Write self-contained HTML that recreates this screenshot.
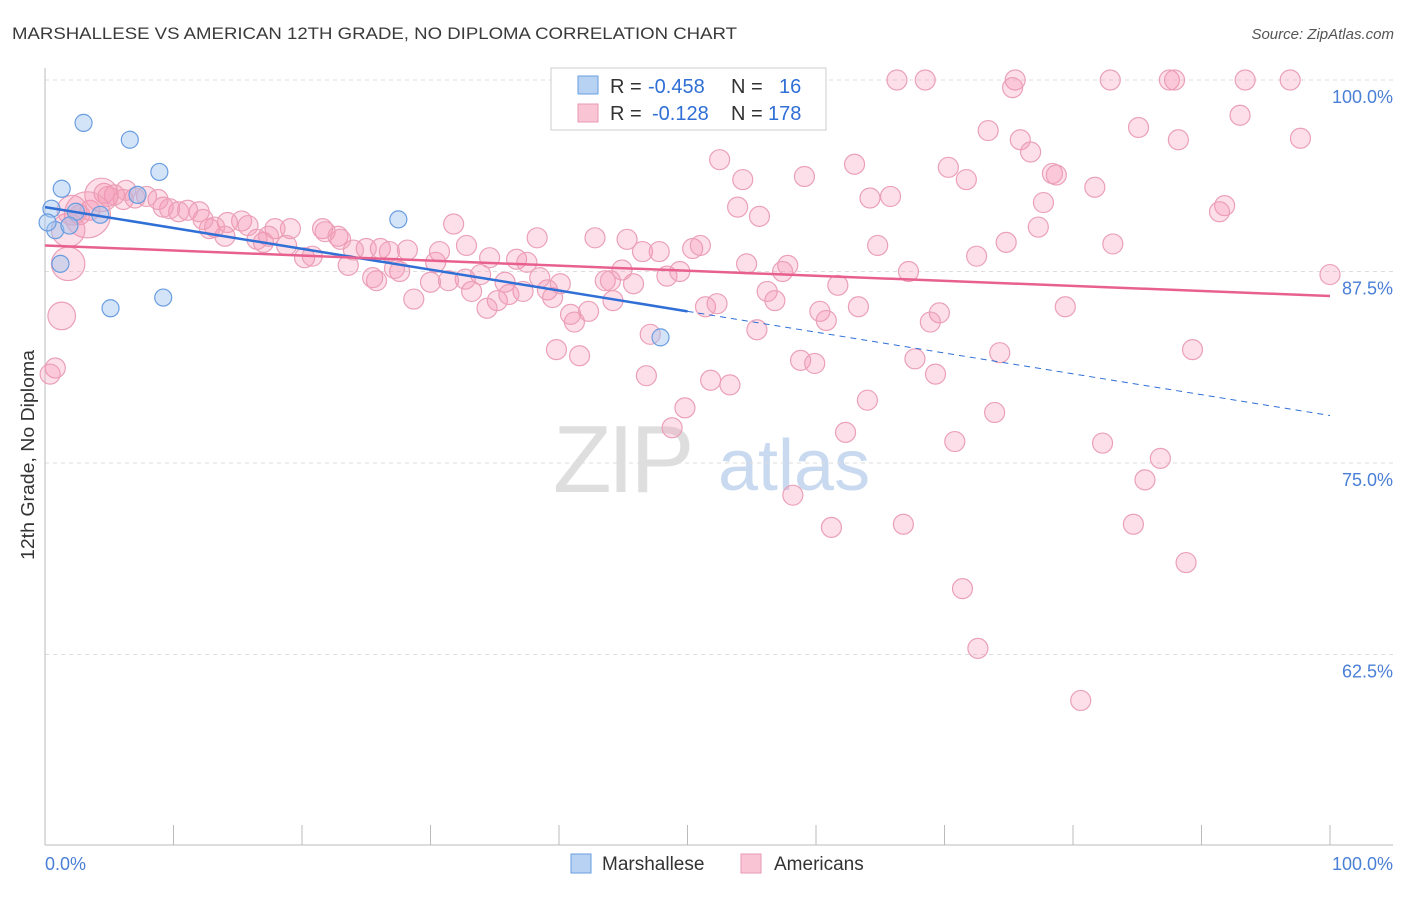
<!DOCTYPE html>
<html><head><meta charset="utf-8"><style>
body{margin:0;background:#fff;font-family:"Liberation Sans",sans-serif;}
svg text{font-family:"Liberation Sans",sans-serif;}
</style></head><body>
<svg id="chart" width="1406" height="892" viewBox="0 0 1406 892" xmlns="http://www.w3.org/2000/svg">
<text x="12" y="39" font-size="17" fill="#3a3a3a" textLength="725" lengthAdjust="spacingAndGlyphs">MARSHALLESE VS AMERICAN 12TH GRADE, NO DIPLOMA CORRELATION CHART</text>
<text x="1394" y="39" font-size="15" fill="#555" font-style="italic" text-anchor="end">Source: ZipAtlas.com</text>
<g>
<text x="553" y="492" font-size="96" fill="#dedede" font-family="Liberation Serif" letter-spacing="-4">ZIP</text>
<text x="718" y="490" font-size="72" fill="#c9daf0">atlas</text>
</g>
<g id="grid"></g>
<line x1="45" y1="68" x2="45" y2="845" stroke="#bbb"/>
<line x1="45" y1="845" x2="1393" y2="845" stroke="#bbb"/>
<g id="xticks"></g>
<g id="ylabels"></g>
<text transform="translate(34,455) rotate(-90)" font-size="18" fill="#333" text-anchor="middle" textLength="210" lengthAdjust="spacingAndGlyphs">12th Grade, No Diploma</text>
<text x="45" y="870" font-size="18" fill="#4a7fd6">0.0%</text>
<text x="1393" y="870" font-size="18" fill="#4a7fd6" text-anchor="end">100.0%</text>
<g id="pink"></g>
<g id="blue"></g>
<g id="trends"></g>
<g>
<rect x="551" y="68" width="275" height="62" fill="#fff" stroke="#ccc"/>
<rect x="578" y="76" width="20" height="18" fill="#b8d2f4" stroke="#6a9de0"/>
<rect x="578" y="104" width="20" height="18" fill="#f9c4d4" stroke="#e89ab3"/>
<text x="610" y="93" font-size="20" fill="#333">R = <tspan x="648" fill="#2f6fd6">-0.458</tspan><tspan x="731">N = </tspan><tspan x="779" fill="#2f6fd6">16</tspan></text>
<text x="610" y="120" font-size="20" fill="#333">R = <tspan x="652" fill="#2f6fd6">-0.128</tspan><tspan x="731">N = </tspan><tspan x="768" fill="#2f6fd6">178</tspan></text>
</g>
<g>
<rect x="571" y="854" width="20" height="19" fill="#b8d2f4" stroke="#6a9de0"/>
<text x="602" y="870" font-size="19" fill="#333">Marshallese</text>
<rect x="741" y="854" width="20" height="19" fill="#f9c4d4" stroke="#e89ab3"/>
<text x="774" y="870" font-size="19" fill="#333">Americans</text>
</g>
</svg>
<script>
const blueX=[3.0,6.6,8.9,1.3,0.5,0.8,0.2,2.4,7.2,27.5,1.2,5.1,9.2,47.9,1.9,4.3];
const blueY=[97.2,96.1,94.0,92.9,91.6,90.2,90.7,91.4,92.5,90.9,88.0,85.1,85.8,83.2,90.5,91.2];
const pinkX=[66.3,68.5,75.5,82.9,87.5,87.9,93.4,96.9,75.3,93.0,97.7,73.4,85.1,75.9,88.2,76.7,52.5,63.0,70.3,54.3,59.1,71.7,78.4,78.7,81.7,64.2,65.8,77.7,91.8,91.4,53.9,55.6,77.3,64.8,74.8,83.1,72.5,50.4,51.0,54.6,57.8,57.4,67.2,100,61.7,56.2,56.8,51.4,52.3,63.3,60.3,60.8,69.6,68.9,79.4,55.4,74.3,89.3,58.8,59.9,67.7,69.3,51.8,53.3,64.0,73.9,49.8,48.8,62.3,70.8,82.3,86.8,85.6,58.2,66.8,61.2,84.7,88.8,71.4,72.6,80.6,
39.8,41.6,46.8,47.1,41.2,40.9,42.3,44.2,43.6,44.0,45.8,44.9,46.5,48.4,49.4,47.8,45.3,42.8,38.3,36.7,37.2,35.2,34.4,36.1,33.2,32.7,33.9,31.4,30.0,30.4,30.7,32.8,31.8,28.7,27.6,27.2,26.1,26.8,28.2,25.0,23.6,24.0,25.8,25.5,21.6,21.8,22.8,23.0,19.1,20.2,20.8,17.9,17.0,16.5,17.4,18.8,15.3,15.8,14.2,14.0,13.2,12.8,12.0,12.3,11.1,10.4,9.7,9.2,8.8,7.9,7.0,6.1,5.4,4.9,4.6,6.3,3.5,2.7,1.8,1.3,0.8,0.4,39.1,39.5,37.5,40.1,38.5,34.6,35.8,4.4,3.3,1.8,2.1];
const pinkY=[100,100,100,100,100,100,100,100,99.5,97.7,96.2,96.7,96.9,96.1,96.1,95.3,94.8,94.5,94.3,93.5,93.7,93.5,93.9,93.8,93.0,92.3,92.4,92.0,91.8,91.4,91.7,91.1,90.4,89.2,89.4,89.3,88.5,89.0,89.2,88.0,87.9,87.5,87.5,87.3,86.6,86.2,85.6,85.2,85.4,85.2,84.9,84.3,84.8,84.2,85.2,83.7,82.2,82.4,81.7,81.5,81.8,80.8,80.4,80.1,79.1,78.3,78.6,77.3,77.0,76.4,76.3,75.3,73.9,72.9,71.0,70.8,71.0,68.5,66.8,62.9,59.5,
82.4,82.0,80.7,83.4,84.2,84.7,84.9,85.6,86.9,86.9,86.7,87.6,88.8,87.2,87.5,88.8,89.6,89.7,89.7,88.3,86.2,85.6,85.1,86.0,86.2,87.0,87.3,86.9,86.8,88.1,88.8,89.2,90.6,85.7,87.5,87.7,89.0,88.8,88.9,89.0,87.9,88.9,86.9,87.1,90.3,90.1,89.8,89.6,90.3,88.4,88.5,90.3,89.4,89.6,89.8,89.2,90.8,90.5,90.7,89.8,90.4,90.3,91.4,90.9,91.5,91.4,91.6,91.7,92.2,92.4,92.3,92.2,92.5,92.4,92.6,92.8,91.5,91.2,88.0,84.6,81.2,80.8,86.3,85.8,88.1,86.7,87.1,88.4,86.8,92.5,91.2,90.2,91.5];
const pinkW=new Array(pinkX.length).fill(1);
pinkW[pinkX.length-4]=2.8;pinkW[pinkX.length-3]=5.3;pinkW[pinkX.length-2]=2.8;pinkW[pinkX.length-1]=2.2;
pinkW[pinkX.length-15]=2.8;pinkW[pinkX.length-14]=1.9;
const yTicks=[100,87.5,75,62.5];
const yTickLabels=["100.0%","87.5%","75.0%","62.5%"];
const xTicks=[0,10,20,30,40,50,60,70,80,90,100];
const blueTrend=[91.7,78.1];
const pinkTrend=[89.2,85.9];
const blueSolidEnd=50;
const NS="http://www.w3.org/2000/svg";
const sx=v=>45+v*12.85;
const sy=v=>80+(100-v)*15.32;
function mk(tag,attrs,parent){const e=document.createElementNS(NS,tag);for(const k in attrs)e.setAttribute(k,attrs[k]);parent.appendChild(e);return e;}
const grid=document.getElementById('grid'),yl=document.getElementById('ylabels'),xt=document.getElementById('xticks');
yTicks.forEach((t,i)=>{
 const l=mk('line',{x1:45,x2:1393,y1:sy(t),y2:sy(t),stroke:'#ddd','stroke-dasharray':'4,4'},grid);
 
 
 const tx=mk('text',{x:1393,y:sy(t)+23,'font-size':18,fill:'#4a7fd6','text-anchor':'end'},yl);
 tx.textContent=yTickLabels[i];
 
 
});
xTicks.forEach(t=>{
 const l=mk('line',{x1:sx(t),x2:sx(t),y1:825,y2:845,stroke:'#bbb'},xt);
 
 
});
const pg=document.getElementById('pink');
pinkX.forEach((x,i)=>{
 const c=mk('circle',{cx:sx(x),cy:sy(pinkY[i]),r:10*Math.sqrt(pinkW[i]),fill:'rgba(244,150,180,0.3)',stroke:'#eba0b8','stroke-width':1.2},pg);
 
 
});
const bg=document.getElementById('blue');
blueX.forEach((x,i)=>{
 const c=mk('circle',{cx:sx(x),cy:sy(blueY[i]),r:8.5,fill:'rgba(160,196,240,0.45)',stroke:'#6a9de0','stroke-width':1.2},bg);
 
 
});
const tg=document.getElementById('trends');
const by=v=>blueTrend[0]+(blueTrend[1]-blueTrend[0])*v/100;
let l1=mk('line',{x1:sx(0),y1:sy(by(0)),x2:sx(blueSolidEnd),y2:sy(by(blueSolidEnd)),stroke:'#2f6fd6','stroke-width':2.5},tg);


let l2=mk('line',{x1:sx(blueSolidEnd),y1:sy(by(blueSolidEnd)),x2:sx(100),y2:sy(by(100)),stroke:'#2f6fd6','stroke-width':1,'stroke-dasharray':'6,5'},tg);


let l3=mk('line',{x1:sx(0),y1:sy(pinkTrend[0]),x2:sx(100),y2:sy(pinkTrend[1]),stroke:'#e8608f','stroke-width':2.5},tg);


</script>
</body></html>
